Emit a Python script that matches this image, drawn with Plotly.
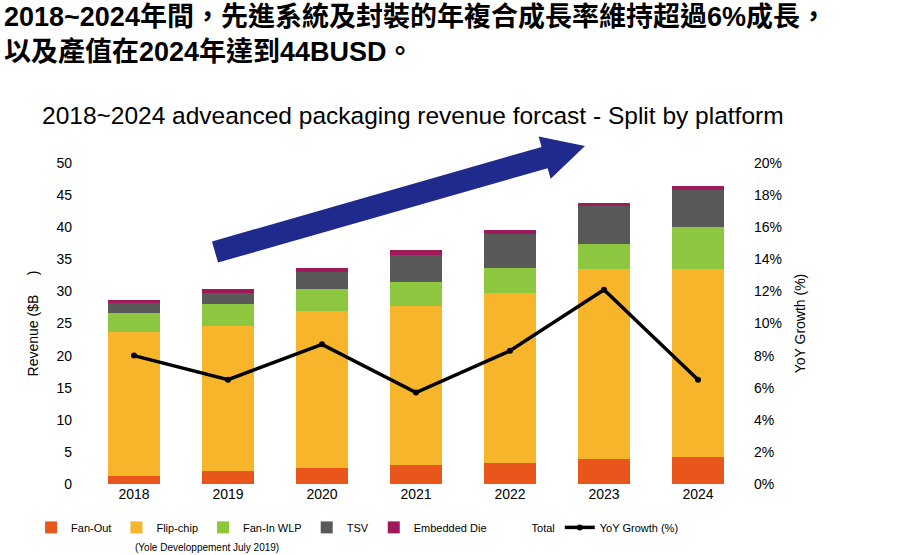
import plotly.graph_objects as go
import math

years = ["2018", "2019", "2020", "2021", "2022", "2023", "2024"]
fan_out = [1.2, 2.0, 2.5, 3.0, 3.3, 3.9, 4.2]
flip_chip = [22.5, 22.6, 24.4, 24.7, 26.5, 29.6, 29.3]
fan_in = [2.9, 3.4, 3.5, 3.8, 3.8, 3.9, 6.5]
tsv = [1.6, 1.8, 2.6, 4.2, 5.3, 5.9, 5.8]
embedded = [0.5, 0.6, 0.6, 0.7, 0.7, 0.5, 0.6]
yoy = [8.0, 6.5, 8.7, 5.7, 8.3, 12.1, 6.5]

F = "Liberation Sans, Arial, sans-serif"
fig = go.Figure()
for name, vals, col in [("Fan-Out", fan_out, "#E8561C"), ("Flip-chip", flip_chip, "#F7B52C"),
                        ("Fan-In WLP", fan_in, "#8DC63F"), ("TSV", tsv, "#595959"),
                        ("Embedded Die", embedded, "#A0195A")]:
    fig.add_trace(go.Bar(x=years, y=vals, name=name, marker_color=col, marker_line_width=0, width=0.55))
fig.add_trace(go.Scatter(x=[None], y=[None], name="Total", mode="lines", line=dict(color="rgba(0,0,0,0)")))
fig.add_trace(go.Scatter(x=years, y=yoy, name="YoY Growth (%)", yaxis="y2", mode="lines+markers",
                         line=dict(color="black", width=3.5), marker=dict(size=6, color="black")))

L, R, T, B = 87, 155, 163, 71
W, H = 900 - L - R, 555 - T - B
def px(x, y):
    return (x - L) / W, (555 - B - y) / H

tail, tip = (215, 252), (585, 146)
dx, dy = tip[0] - tail[0], tip[1] - tail[1]
ln = math.hypot(dx, dy); ux, uy = dx / ln, dy / ln; nx, ny = -uy, ux
hw, hh, hl = 11, 22, 42
bx, by = tip[0] - hl * ux, tip[1] - hl * uy
pts = [(tail[0] - hw * nx, tail[1] - hw * ny), (bx - hw * nx, by - hw * ny), (bx - hh * nx, by - hh * ny),
       tip, (bx + hh * nx, by + hh * ny), (bx + hw * nx, by + hw * ny), (tail[0] + hw * nx, tail[1] + hw * ny)]
path = "M " + " L ".join(f"{px(*p)[0]:.4f},{px(*p)[1]:.4f}" for p in pts) + " Z"
fig.add_shape(type="path", path=path, xref="paper", yref="paper", fillcolor="#1F2A8C", line_width=0)
ang = math.degrees(math.atan2(-dy, dx))
cx, cy = px(385, 201)
fig.add_annotation(x=cx, y=cy, xref="paper", yref="paper", text="CAGR 2018~2024 : ~8%", showarrow=False,
                   textangle=-ang, font=dict(color="white", size=13, family=F))

fig.update_layout(
    width=900, height=555, barmode="stack", plot_bgcolor="white", paper_bgcolor="white",
    margin=dict(l=L, r=R, t=T, b=B, autoexpand=False), font=dict(family=F, size=14, color="black"),
    xaxis=dict(showline=False, ticks="", tickfont=dict(size=14)),
    yaxis=dict(range=[0, 50], dtick=5, showgrid=False, zeroline=False, ticklabelstandoff=14,
               title=dict(text="Revenue ($B     )", font=dict(size=14), standoff=14)),
    yaxis2=dict(range=[0, 20], dtick=2, overlaying="y", side="right", ticksuffix="%", showgrid=False,
                ticklabelstandoff=8, title=dict(text="YoY Growth (%)", font=dict(size=14), standoff=14)),
    legend=dict(orientation="h", x=-0.085, y=-0.09, xanchor="left", yanchor="top",
                font=dict(size=11), itemwidth=30, traceorder="normal"),
    showlegend=True,
)
hx, hy = px(2, 0)
fig.add_annotation(x=hx, y=hy, xref="paper", yref="paper",
                   xanchor="left", yanchor="top", showarrow=False, align="left",
                   text="<b>2018~2024年間，先進系統及封裝的年複合成長率維持超過6%成長，<br>以及產值在2024年達到44BUSD。</b>",
                   font=dict(size=27, family="Liberation Sans, Noto Sans CJK TC"))
tx, ty = px(40, 115)
fig.add_annotation(x=tx, y=ty, xref="paper", yref="paper", xanchor="left", yanchor="middle", showarrow=False,
                   text="2018~2024 adveanced packaging revenue forcast - Split by platform", font=dict(size=24.5))
sx, sy = px(133, 547)
fig.add_annotation(x=sx, y=sy, xref="paper", yref="paper", xanchor="left", yanchor="middle", showarrow=False,
                   text="(Yole Developpement July 2019)", font=dict(size=10))
fig.write_html("out.html", config={"displayModeBar": False}, post_script="document.body.style.margin='0';")
